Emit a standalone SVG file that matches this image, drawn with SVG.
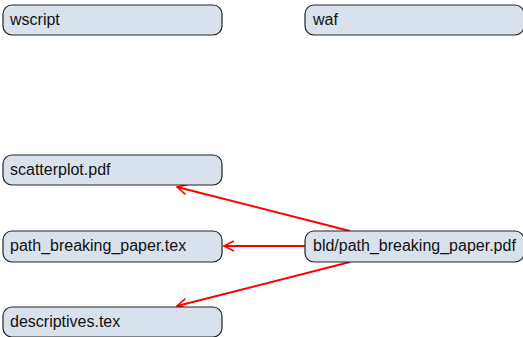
<svg xmlns="http://www.w3.org/2000/svg" width="523" height="337" viewBox="0 0 523 337">
<style>
.n rect{fill:#d9e2ec;stroke:#222;stroke-width:1.2}
.n text{font-family:"Liberation Sans",Arial,sans-serif;font-size:16px;fill:#111}
.e{stroke:#f00;stroke-width:2;fill:none}
</style>
<defs>
<marker id="a" viewBox="0 0 12 12" refX="11" refY="6" markerWidth="12" markerHeight="12" markerUnits="userSpaceOnUse" orient="auto">
<path d="M1,1 L11,6 L1,11" fill="none" stroke="#f00" stroke-width="1.6"/>
</marker>
</defs>
<g id="edges">
<path class="e" d="M350,231 L177,187" marker-end="url(#a)"/>
<path class="e" d="M305,246 L224,246" marker-end="url(#a)"/>
<path class="e" d="M350,262 L177,306" marker-end="url(#a)"/>
</g>
<g id="wscript" class="n"><rect x="3" y="5" width="219" height="30" rx="9"/><text x="10" y="25">wscript</text></g>
<g id="waf" class="n"><rect x="305" y="5" width="219" height="30" rx="9"/><text x="313" y="25">waf</text></g>
<g id="scatterplot" class="n"><rect x="3" y="155" width="219" height="30" rx="9"/><text x="10" y="175">scatterplot.pdf</text></g>
<g id="paper_tex" class="n"><rect x="3" y="231" width="219" height="31" rx="9"/><text x="10" y="251">path_breaking_paper.tex</text></g>
<g id="descriptives" class="n"><rect x="3" y="307" width="219" height="30" rx="9"/><text x="10" y="327">descriptives.tex</text></g>
<g id="paper_pdf" class="n"><rect x="305" y="231" width="219" height="31" rx="9"/><text x="313" y="251">bld/path_breaking_paper.pdf</text></g>
</svg>
